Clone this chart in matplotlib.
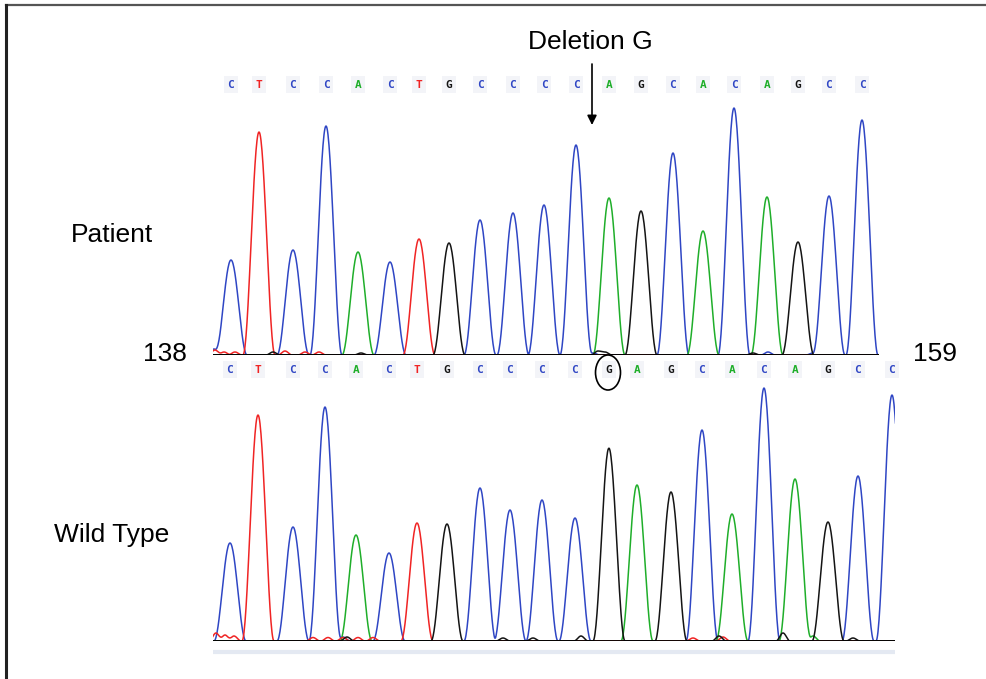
"""Cromatograma: paciente vs wild type, deleción de G."""

import numpy as np
import matplotlib.pyplot as plt
from matplotlib import transforms
from matplotlib.patches import Ellipse

FONT = ["Liberation Sans", "DejaVu Sans"]
BASE_COLORS = {"A": "#1fae2a", "C": "#2f46c4", "G": "#141414", "T": "#f02424"}

# Secuencias leídas
patient_seq = "CTCCACTGCCCCAGCACAGCC"
wild_seq = "CTCCACTGCCCCGAGCACAGCC"

# Posición de cada pico (puntos de barrido) e intensidad
patient_pos = [18, 46, 80, 113, 145, 177, 206, 236, 267, 300, 331,
               363, 396, 428, 460, 490, 521, 554, 585, 616, 649]
patient_height = [95, 223, 105, 229, 103, 93, 116, 112, 135, 142, 150,
                  210, 157, 144, 202, 124, 247, 158, 113, 159, 235]

wild_pos = [17, 45, 80, 112, 143, 176, 204, 234, 267, 297, 329,
            362, 396, 424, 458, 489, 519, 551, 582, 615, 645, 679]
wild_height = [98, 226, 114, 234, 106, 88, 118, 117, 153, 131, 141,
               123, 189, 156, 149, 211, 127, 253, 162, 119, 165, 246]

# Ruido de fondo cerca de la línea base
patient_noise_base = list("TTTCGTTTGGCGGCC")
patient_noise_pos = [2, 11, 22, 1, 60, 72, 92, 106, 148, 385, 380, 392, 540, 555, 600]
patient_noise_height = [5, 3, 3, 6, 3, 4, 3, 3, 2, 4, 2, 3, 2, 3, 2]

wild_noise_base = list("TTTTTTTTGCGGGTGTGGAG")
wild_noise_pos = [3, 12, 21, 100, 115, 130, 145, 160, 134, 130, 368, 395,
                  506, 510, 570, 480, 640, 320, 600, 290]
wild_noise_height = [8, 6, 5, 3.5, 3.5, 3.5, 3.5, 3.5, 4, 4, 5, 4,
                     5, 4, 8, 3, 3, 3, 5, 3]

HALF_W = 16.0   # semiancho de cada pico
NOISE_W = 7.0


def peak(x, p, h, w):
    d = np.clip((x - p) / w, -1, 1)
    return h * np.cos(np.pi * d / 2) ** 2


def draw_trace(ax, seq, pos, height, nbase, npos, nheight, xmax):
    x = np.arange(-5, xmax + 10, 0.5)
    for base in ["C", "A", "T", "G"]:
        y = np.zeros_like(x)
        for b, p, h in zip(seq, pos, height):
            if b == base:
                y += peak(x, p, h, HALF_W)
        for b, p, h in zip(nbase, npos, nheight):
            if b == base:
                y += peak(x, p, h, NOISE_W)
        ax.plot(x, y, color=BASE_COLORS[base], lw=1.1, zorder=2)
    ax.axhline(0, color="black", lw=2, zorder=3)
    ax.set_xlim(0, xmax)
    ax.axis("off")

    # letras de la secuencia sobre el trazo
    trans = transforms.blended_transform_factory(ax.transData, ax.transAxes)
    for b, p in zip(seq, pos):
        ax.text(p, 1.04, b, transform=trans, ha="center", va="center",
                fontsize=8, color=BASE_COLORS[b], family="DejaVu Sans Mono",
                fontweight="bold", clip_on=False,
                bbox=dict(boxstyle="square,pad=0.3", fc="#f3f4f8", ec="none"))


W, H = 987, 679
fig = plt.figure(figsize=(W / 100, H / 100), dpi=100)
fig.patch.set_facecolor("white")

# capa de anotaciones en píxeles
ov = fig.add_axes([0, 0, 1, 1])
ov.set_xlim(0, W)
ov.set_ylim(H, 0)
ov.axis("off")

# marco
ov.plot([6, W], [5, 5], color="#555555", lw=1.6)
ov.plot([6, 6], [5, H], color="#222222", lw=2.2)

# paneles
x0 = 213
ax_p = fig.add_axes([x0 / W, 1 - 355 / H, 666 / W, 260 / H])
ax_p.patch.set_alpha(0)
ax_p.set_ylim(0, 260)
draw_trace(ax_p, patient_seq, patient_pos, patient_height,
           patient_noise_base, patient_noise_pos, patient_noise_height, 666)

ax_w = fig.add_axes([x0 / W, 1 - 641 / H, 682 / W, 261 / H])
ax_w.patch.set_alpha(0)
ax_w.set_ylim(0, 261)
draw_trace(ax_w, wild_seq, wild_pos, wild_height,
           wild_noise_base, wild_noise_pos, wild_noise_height, 682)

# banda clara bajo el wild type
ov.plot([x0, x0 + 682], [652, 652], color="#e4e9f2", lw=3, solid_capstyle="butt")

# textos
ov.text(112, 235, "Patient", ha="center", va="center", fontsize=19, family=FONT)
ov.text(112, 535, "Wild Type", ha="center", va="center", fontsize=19, family=FONT)
ov.text(165, 354, "138", ha="center", va="center", fontsize=19, family=FONT)
ov.text(935, 354, "159", ha="center", va="center", fontsize=19, family=FONT)
ov.text(590, 42, "Deletion G", ha="center", va="center", fontsize=19, family=FONT)

# flecha de la deleción
ov.annotate("", xy=(592, 125), xytext=(592, 64),
            arrowprops=dict(arrowstyle="-|>", color="black", lw=1.2,
                            mutation_scale=14, shrinkA=0, shrinkB=0))

# círculo sobre la G ausente en el paciente
ov.add_patch(Ellipse((x0 + wild_pos[12] - 1, 372.5), 25, 35,
                     fill=False, ec="black", lw=1.2))

fig.savefig("out.png", dpi=100, facecolor="white")
